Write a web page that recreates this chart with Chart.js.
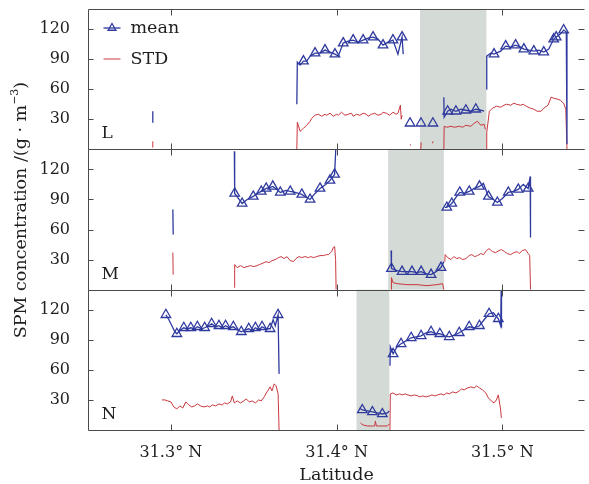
<!DOCTYPE html>
<html><head><meta charset="utf-8">
<script src="https://cdn.jsdelivr.net/npm/chart.js@4/dist/chart.umd.min.js"></script>
<style>html,body{margin:0;padding:0;overflow:hidden;background:#fff}#wrap{position:relative;width:592px;height:484px}</style>
</head><body><div id="wrap"><canvas id="c" width="592" height="484"></canvas></div>
<script>
// ---------- DATA ----------
const panelNames = ['L', 'M', 'N'];
const xTickVals = [31.3, 31.4, 31.5];
const yTickVals = [30, 60, 90, 120];
const xTitle = 'Latitude';
const yTitleMain = 'SPM concentration /(g · m';
const yTitleSup = '−3';
const yTitleEnd = ')';
const seriesNames = ['mean', 'STD'];
// grey (shaded) latitude bands per panel
const bandStart = [31.4503, 31.4311, 31.4120];
const bandEnd   = [31.4904, 31.4647, 31.4318];

// [latitude, value, triangleMarker]; null = gap
const meanL = [
 [31.2889,27],[31.2891,38], null,
 [31.3760,45],[31.3763,87],[31.3780,84],[31.3800,88,1],[31.3820,88],[31.3840,93],[31.3870,96,1],[31.3900,96],[31.3930,99,1],[31.3960,97],[31.3990,95,1],[31.4010,93],[31.4040,106,1],[31.4070,108],[31.4100,109,1],[31.4130,107],[31.4160,109,1],[31.4190,111],[31.4220,112,1],[31.4250,110],[31.4280,104,1],[31.4310,107],[31.4340,109,1],[31.4370,95],[31.4395,112,1],[31.4402,95], null,
 [31.4443,26,1], null, [31.4509,26,1], null, [31.4581,26,1], null,
 [31.4647,52],[31.4649,32],[31.4670,38,1],[31.4690,40],[31.4720,38,1],[31.4750,40],[31.4780,39,1],[31.4810,38],[31.4840,40,1],[31.4870,39],[31.4890,38], null,
 [31.4904,60],[31.4906,93],[31.4930,96],[31.4950,95,1],[31.4990,98],[31.5020,103,1],[31.5050,102],[31.5080,104,1],[31.5110,102],[31.5130,100,1],[31.5160,99],[31.5190,98,1],[31.5220,99],[31.5250,97,1],[31.5280,100],[31.5310,110,1],[31.5325,112,1],[31.5350,115],[31.5370,119,1],[31.5386,117],[31.5390,5]
];
const stdL = [
 [31.2889,2],[31.2891,8], null,
 [31.3760,0],[31.3763,27],[31.3780,18],[31.3800,21],[31.3820,24],[31.3840,28],[31.3850,31],[31.3870,34],[31.3890,35],[31.3910,33],[31.3930,35],[31.3940,34],[31.3960,36],[31.3980,33],[31.4000,35],[31.4010,34],[31.4030,37],[31.4050,34],[31.4070,35],[31.4090,36],[31.4100,33],[31.4120,35],[31.4140,34],[31.4160,36],[31.4180,35],[31.4190,33],[31.4210,35],[31.4230,36],[31.4250,34],[31.4270,35],[31.4280,37],[31.4300,36],[31.4320,34],[31.4340,37],[31.4360,35],[31.4370,36],[31.4385,44],[31.4390,30],[31.4395,34], null,
 [31.4443,4],[31.4445,5], null, [31.4508,0],[31.4510,7], null, [31.4578,6],[31.4582,8], null,
 [31.4647,0],[31.4649,23],[31.4665,22],[31.4690,23],[31.4710,22],[31.4740,23],[31.4760,22],[31.4780,24],[31.4810,23],[31.4830,26],[31.4850,28],[31.4870,24],[31.4890,25],[31.4898,20], null,
 [31.4904,0],[31.4906,17],[31.4922,38],[31.4940,41],[31.4965,43],[31.4990,42],[31.5010,44],[31.5025,45],[31.5050,44],[31.5070,46],[31.5085,45],[31.5110,44],[31.5126,45],[31.5144,43],[31.5170,41],[31.5190,40],[31.5210,38],[31.5234,38],[31.5250,41],[31.5276,44],[31.5294,52],[31.5310,51],[31.5335,50],[31.5350,49],[31.5370,46],[31.5383,40],[31.5390,0]
];
const meanM = [
 [31.3012,80],[31.3014,55], null,
 [31.3383,138],[31.3385,96,1],[31.3407,91],[31.3430,86,1],[31.3460,90],[31.3497,93,1],[31.3520,96],[31.3545,98,1],[31.3575,101,1],[31.3600,102],[31.3615,103,1],[31.3640,100],[31.3660,97,1],[31.3695,99],[31.3720,98,1],[31.3750,97],[31.3790,95,1],[31.3810,93],[31.3840,90,1],[31.3870,96],[31.3900,101,1],[31.3934,105],[31.3960,109,1],[31.3988,115,1],[31.3995,140], null,
 [31.4329,39],[31.4331,21,1],[31.4365,19],[31.4395,18,1],[31.4425,18],[31.4455,18,1],[31.4485,17],[31.4510,18,1],[31.4540,16],[31.4570,15,1],[31.4600,18],[31.4630,22,1],[31.4647,28], null,
 [31.4653,82],[31.4665,82,1],[31.4695,86,1],[31.4720,92],[31.4743,97,1],[31.4770,96],[31.4800,98,1],[31.4830,101],[31.4862,103,1],[31.4886,106],[31.4916,93,1],[31.4946,90],[31.4970,87,1],[31.5000,91],[31.5036,97,1],[31.5066,98],[31.5096,100,1],[31.5126,105],[31.5156,101,1],[31.5168,113],[31.5170,52]
];
const stdM = [
 [31.3012,37],[31.3014,15], null,
 [31.3383,2],[31.3385,25],[31.3400,22],[31.3420,24],[31.3440,22],[31.3460,23],[31.3480,24],[31.3500,23],[31.3520,24],[31.3533,25],[31.3550,26],[31.3575,28],[31.3593,27],[31.3610,29],[31.3630,30],[31.3650,32],[31.3665,33],[31.3683,31],[31.3700,33],[31.3720,29],[31.3740,28],[31.3755,31],[31.3773,33],[31.3790,32],[31.3810,33],[31.3830,32],[31.3844,33],[31.3860,32],[31.3880,33],[31.3900,34],[31.3920,34],[31.3940,35],[31.3952,35],[31.3970,38],[31.3980,42],[31.3988,43],[31.3994,30],[31.3997,0], null,
 [31.4329,0],[31.4331,12],[31.4340,7],[31.4365,6],[31.4425,5],[31.4485,5],[31.4545,4],[31.4605,5],[31.4640,6],[31.4647,0], null,
 [31.4653,28],[31.4655,35],[31.4670,32],[31.4690,30],[31.4707,33],[31.4725,31],[31.4743,32],[31.4760,30],[31.4780,31],[31.4800,34],[31.4815,35],[31.4833,33],[31.4850,34],[31.4870,36],[31.4887,35],[31.4904,39],[31.4920,41],[31.4940,38],[31.4960,37],[31.4980,39],[31.4995,40],[31.5013,38],[31.5030,36],[31.5050,35],[31.5070,37],[31.5090,38],[31.5102,36],[31.5120,39],[31.5140,40],[31.5156,36],[31.5165,34],[31.5170,0]
];
const meanN = [
 [31.2970,115,1],[31.2988,110],[31.3006,104],[31.3024,98],[31.3036,96,1],[31.3060,100],[31.3078,102,1],[31.3100,101],[31.3120,102,1],[31.3144,101],[31.3160,103,1],[31.3186,101],[31.3204,102,1],[31.3228,104],[31.3246,106,1],[31.3270,103],[31.3290,104,1],[31.3311,102],[31.3330,104,1],[31.3353,102],[31.3377,103,1],[31.3400,100],[31.3425,98,1],[31.3450,100],[31.3470,101,1],[31.3490,99],[31.3510,102,1],[31.3533,100],[31.3550,103,1],[31.3575,101],[31.3599,101,1],[31.3617,110],[31.3630,104],[31.3647,115,1],[31.3653,56], null,
 [31.4138,22],[31.4155,20,1],[31.4186,19],[31.4216,18,1],[31.4246,17],[31.4276,16,1],[31.4306,17],[31.4318,19], null,
 [31.4322,64],[31.4324,83],[31.4341,76,1],[31.4365,83],[31.4389,86,1],[31.4420,89],[31.4450,92,1],[31.4480,93],[31.4510,94,1],[31.4539,97],[31.4570,98,1],[31.4600,96],[31.4623,96,1],[31.4653,94],[31.4680,93,1],[31.4713,95],[31.4740,97,1],[31.4770,100],[31.4800,103,1],[31.4830,102],[31.4862,104,1],[31.4890,110],[31.4920,116,1],[31.4946,117],[31.4976,111,1],[31.4990,104],[31.4993,140],[31.4995,102]
];
const stdN = [
 [31.2946,30],[31.2964,30],[31.2982,29],[31.3000,28],[31.3018,23],[31.3036,21],[31.3054,24],[31.3072,22],[31.3090,28],[31.3108,25],[31.3126,23],[31.3144,24],[31.3160,26],[31.3180,24],[31.3200,23],[31.3220,24],[31.3234,23],[31.3252,25],[31.3270,24],[31.3290,26],[31.3310,25],[31.3323,27],[31.3340,26],[31.3360,28],[31.3371,34],[31.3383,27],[31.3400,29],[31.3420,27],[31.3440,29],[31.3455,31],[31.3473,28],[31.3490,29],[31.3510,27],[31.3530,30],[31.3545,29],[31.3563,33],[31.3580,38],[31.3599,43],[31.3610,39],[31.3623,46],[31.3635,44],[31.3647,36],[31.3653,0], null,
 [31.4144,7],[31.4160,5],[31.4186,4],[31.4216,4],[31.4230,4],[31.4234,9],[31.4240,4],[31.4276,4],[31.4306,4],[31.4318,6], null,
 [31.4322,0],[31.4324,36],[31.4340,37],[31.4360,35],[31.4380,36],[31.4396,35],[31.4413,36],[31.4430,35],[31.4450,34],[31.4470,35],[31.4490,34],[31.4503,33],[31.4520,34],[31.4540,33],[31.4560,34],[31.4575,35],[31.4593,34],[31.4610,35],[31.4630,36],[31.4647,35],[31.4665,37],[31.4680,36],[31.4700,38],[31.4720,37],[31.4740,39],[31.4755,41],[31.4770,40],[31.4790,42],[31.4810,43],[31.4830,42],[31.4845,44],[31.4862,42],[31.4880,40],[31.4900,37],[31.4916,32],[31.4934,29],[31.4950,27],[31.4964,30],[31.4976,35],[31.4990,20],[31.4994,12]
];

// ---------- STYLE ----------
const FONT = 'DejaVu Serif';
const BLUE = '#2f3a9e', RED = '#c9383e', BAND = '#d4dad5', FRAME = '#4a4a4a', TXT = '#1e1e1e';

function pts(arr) {
  return arr.map((p, i) => p ? {x: p[0], y: p[1], m: p[2] || 0} : {x: arr[i - 1][0], y: null});
}
function meanDs(arr, axis) {
  return {label: seriesNames[0], data: pts(arr), yAxisID: axis, borderColor: BLUE, borderWidth: 1.3,
    pointStyle: 'triangle', pointBorderColor: BLUE, pointBackgroundColor: 'rgba(255,255,255,0)',
    pointBorderWidth: 1.3, pointRadius: c => (c.raw && c.raw.m) ? 5.5 : 0, pointHoverRadius: 0,
    spanGaps: false, tension: 0, order: 1};
}
function stdDs(arr, axis) {
  return {label: seriesNames[1], data: pts(arr), yAxisID: axis, borderColor: RED, borderWidth: 1,
    pointRadius: 0, pointHoverRadius: 0, spanGaps: false, tension: 0, order: 2};
}
function yScale() {
  return {type: 'linear', position: 'left', stack: 'panels', stackWeight: 1, min: 0, max: 140,
    grid: {display: false}, border: {display: false},
    afterBuildTicks: s => { s.ticks = yTickVals.map(v => ({value: v})); },
    afterFit: s => { s.width = 88; s.paddingTop = 0; s.paddingBottom = 0; },
    ticks: {font: {family: FONT, size: 16}, color: TXT, padding: 10}};
}

const decor = {
  id: 'decor',
  beforeDatasetsDraw(chart) {
    const ctx = chart.ctx, xs = chart.scales.x;
    panelNames.forEach((p, i) => {
      const ys = chart.scales['y' + p];
      const x0 = xs.getPixelForValue(bandStart[i]), x1 = xs.getPixelForValue(bandEnd[i]);
      ctx.save(); ctx.fillStyle = BAND; ctx.fillRect(x0, ys.top, x1 - x0, ys.bottom - ys.top); ctx.restore();
    });
  },
  afterDraw(chart) {
    const ctx = chart.ctx, xs = chart.scales.x, area = chart.chartArea;
    ctx.save();
    ctx.strokeStyle = FRAME; ctx.lineWidth = 1;
    const L = Math.round(area.left) + 0.5, R = Math.round(area.right) - 0.5;
    panelNames.forEach(p => {
      const ys = chart.scales['y' + p];
      const T = Math.round(ys.top) + 0.5, B = Math.round(ys.bottom) + 0.5;
      ctx.beginPath();
      ctx.moveTo(R, T); ctx.lineTo(L, T); ctx.lineTo(L, B); ctx.lineTo(R, B);
      xTickVals.forEach(v => {
        const x = Math.round(xs.getPixelForValue(v)) + 0.5;
        ctx.moveTo(x, T); ctx.lineTo(x, T + 6);
        ctx.moveTo(x, B); ctx.lineTo(x, B - 6);
      });
      yTickVals.forEach(v => {
        const y = Math.round(ys.getPixelForValue(v)) + 0.5;
        ctx.moveTo(L, y); ctx.lineTo(L + 5, y);
        ctx.moveTo(R, y); ctx.lineTo(R - 6, y);
      });
      ctx.stroke();
      // panel letter
      ctx.fillStyle = TXT; ctx.font = '17px "' + FONT + '"';
      ctx.textAlign = 'left'; ctx.textBaseline = 'alphabetic';
      ctx.fillText(p, L + 13, ys.bottom - 11);
    });
    // legend
    const lx0 = L + 15, lx1 = L + 32, tx = L + 42;
    const r1 = 28, r2 = 59;
    ctx.lineWidth = 1.3; ctx.strokeStyle = BLUE;
    ctx.beginPath(); ctx.moveTo(lx0, r1); ctx.lineTo(lx1, r1); ctx.stroke();
    const cx = (lx0 + lx1) / 2, rr = 4.5;
    ctx.beginPath();
    ctx.moveTo(cx, r1 - rr); ctx.lineTo(cx + rr * 0.866, r1 + rr * 0.5); ctx.lineTo(cx - rr * 0.866, r1 + rr * 0.5); ctx.closePath();
    ctx.stroke();
    ctx.strokeStyle = RED; ctx.lineWidth = 1;
    ctx.beginPath(); ctx.moveTo(lx0, r2); ctx.lineTo(lx1, r2); ctx.stroke();
    ctx.fillStyle = TXT; ctx.font = '17.5px "' + FONT + '"'; ctx.textBaseline = 'middle'; ctx.textAlign = 'left';
    ctx.fillText(seriesNames[0], tx, r1);
    ctx.fillText(seriesNames[1], tx, r2);
    // y title
    ctx.translate(21, 210); ctx.rotate(-Math.PI / 2);
    const fMain = '17.5px "' + FONT + '"', fSup = '11px "' + FONT + '"';
    ctx.font = fMain; const w1 = ctx.measureText(yTitleMain).width, w3 = ctx.measureText(yTitleEnd).width;
    ctx.font = fSup; const w2 = ctx.measureText(yTitleSup).width;
    let x = -(w1 + w2 + w3) / 2;
    ctx.textBaseline = 'middle';
    ctx.font = fMain; ctx.fillText(yTitleMain, x, 0); x += w1;
    ctx.font = fSup; ctx.fillText(yTitleSup, x, -6); x += w2;
    ctx.font = fMain; ctx.fillText(yTitleEnd, x, 0);
    ctx.restore();
  }
};

new Chart(document.getElementById('c'), {
  type: 'line',
  data: {datasets: [
    meanDs(meanL, 'yL'), stdDs(stdL, 'yL'),
    meanDs(meanM, 'yM'), stdDs(stdM, 'yM'),
    meanDs(meanN, 'yN'), stdDs(stdN, 'yN')
  ]},
  options: {
    responsive: false, animation: false, devicePixelRatio: 1,
    layout: {padding: {left: 0, top: 9, right: 2, bottom: 0}},
    plugins: {legend: {display: false}, tooltip: {enabled: false}},
    scales: {
      x: {type: 'linear', min: 31.25, max: 31.55, grid: {display: false}, border: {display: false},
        afterBuildTicks: s => { s.ticks = xTickVals.map(v => ({value: v})); },
        afterFit: s => { s.height = 54; s.paddingLeft = 0; s.paddingRight = 0; },
        ticks: {font: {family: FONT, size: 16}, color: TXT, padding: 5, maxRotation: 0,
          callback: v => v.toFixed(1) + '° N'},
        title: {display: true, text: xTitle, font: {family: FONT, size: 17.5, lineHeight: 1}, color: TXT,
          padding: {top: 0, bottom: 0}}},
      yN: yScale(), yM: yScale(), yL: yScale()
    }
  },
  plugins: [decor]
});
</script></body></html>
